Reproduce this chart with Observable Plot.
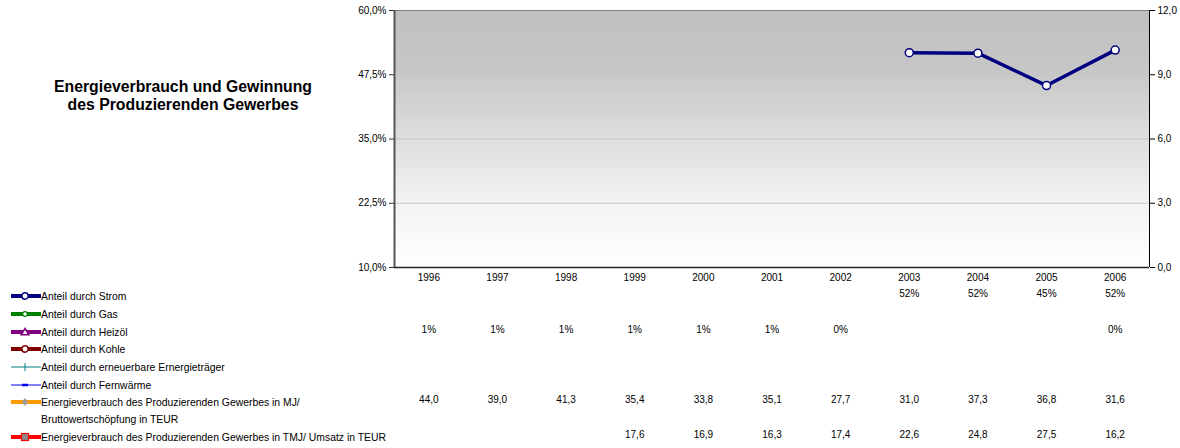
<!DOCTYPE html>
<html><head><meta charset="utf-8">
<script src="https://cdn.jsdelivr.net/npm/d3@7"></script>
<script src="https://cdn.jsdelivr.net/npm/@observablehq/plot@0.6"></script>
<style>html,body{margin:0;padding:0;background:#fff} svg{display:block}</style>
</head><body><div id="chart"></div>
<script>
// ---------- data ----------
const years = [1996, 1997, 1998, 1999, 2000, 2001, 2002, 2003, 2004, 2005, 2006];
const seriesNames = [
  "Anteil durch Strom",
  "Anteil durch Gas",
  "Anteil durch Heizöl",
  "Anteil durch Kohle",
  "Anteil durch erneuerbare Ernergieträger",
  "Anteil durch Fernwärme",
  "Energieverbrauch des Produzierenden Gewerbes in MJ/ Bruttowertschöpfung in TEUR",
  "Energieverbrauch des Produzierenden Gewerbes in TMJ/ Umsatz in TEUR"
];
const strom      = [null, null, null, null, null, null, null, 51.8, 51.7, 45.4, 52.3];
const gas        = [null, null, null, null, null, null, null, null, null, null, null];
const heizoel    = [1, 1, 1, 1, 1, 1, 0, null, null, null, 0];
const kohle      = [null, null, null, null, null, null, null, null, null, null, null];
const erneuerbar = [null, null, null, null, null, null, null, null, null, null, null];
const fernwaerme = [null, null, null, null, null, null, null, null, null, null, null];
const mjBws      = [44.0, 39.0, 41.3, 35.4, 33.8, 35.1, 27.7, 31.0, 37.3, 36.8, 31.6];
const tmjUmsatz  = [null, null, null, 17.6, 16.9, 16.3, 17.4, 22.6, 24.8, 27.5, 16.2];
const leftTicks  = [10, 22.5, 35, 47.5, 60];
const rightTicks = [0, 3, 6, 9, 12];
const titleLines = ["Energieverbrauch und Gewinnung", "des Produzierenden Gewerbes"];

// ---------- setup ----------
const W = 1180, H = 448;
const mL = 394, mR = 31, mT = 10, mB = 181;
const frameBottom = H - mB;
const yDom = [10, 60];
const rMax = rightTicks[rightTicks.length - 1];
const toLeft = v => yDom[0] + v / rMax * (yDom[1] - yDom[0]);
const comma = (v, d) => v.toFixed(d).replace(".", ",");

const series = [
  {name: seriesNames[0], values: strom,      axis: "left",  color: "#000080", width: 3.5, marker: "circle", fmt: v => Math.round(v) + "%"},
  {name: seriesNames[1], values: gas,        axis: "left",  color: "#008000", width: 3.5, marker: "circle-s", fmt: v => Math.round(v) + "%"},
  {name: seriesNames[2], values: heizoel,    axis: "left",  color: "#800080", width: 3.5, marker: "triangle", fmt: v => Math.round(v) + "%"},
  {name: seriesNames[3], values: kohle,      axis: "left",  color: "#800000", width: 3.5, marker: "circle", fmt: v => Math.round(v) + "%"},
  {name: seriesNames[4], values: erneuerbar, axis: "left",  color: "#008080", width: 1,   marker: "plus", fmt: v => Math.round(v) + "%"},
  {name: seriesNames[5], values: fernwaerme, axis: "left",  color: "#0000ff", width: 1,   marker: "dash", fmt: v => Math.round(v) + "%"},
  {name: seriesNames[6], values: mjBws,      axis: "right", color: "#ff9900", width: 3.5, marker: "diamond", fmt: v => comma(v, 1)},
  {name: seriesNames[7], values: tmjUmsatz,  axis: "right", color: "#ff0000", width: 3.5, marker: "square", fmt: v => comma(v, 1)}
];
const rowY = [296, 314, 332, 349, 367, 385, 402, 437];

const lineMarks = [];
const tableMarks = [];
series.forEach((s, i) => {
  const rows = years.map((year, j) => {
    const v = s.values[j];
    return {year, value: v, y: v == null ? NaN : (s.axis === "left" ? v : toLeft(v))};
  });
  lineMarks.push(Plot.line(rows, {x: "year", y: "y", stroke: s.color, strokeWidth: s.width, clip: true}));
  lineMarks.push(Plot.dot(rows, {x: "year", y: "y", r: 4, fill: "#fff", stroke: s.color, strokeWidth: 1.5, clip: true}));
  const labelled = rows.filter(d => d.value != null);
  tableMarks.push(Plot.text(labelled, {
    x: "year", text: d => s.fmt(d.value), frameAnchor: "bottom", dy: rowY[i] - frameBottom,
    fill: "#000", fontSize: 10
  }));
});

const chart = Plot.plot({
  width: W, height: H,
  marginLeft: mL, marginRight: mR, marginTop: mT, marginBottom: mB,
  x: {type: "linear", domain: [1995.5, 2006.5]},
  y: {domain: yDom},
  style: {fontFamily: "'Liberation Sans', Arial, sans-serif", fontSize: "10px", color: "#000", background: "#fff", overflow: "visible"},
  marks: [
    Plot.frame({fill: "url(#bgGrad)", stroke: null}),
    Plot.ruleY([22.5, 35, 47.5], {stroke: "#c6c6c6", strokeWidth: 1}),
    Plot.ruleY([yDom[1]], {stroke: "#808080", strokeWidth: 1}),
    Plot.axisY({ticks: leftTicks, tickFormat: d => comma(d, 1) + "%", tickSize: 5, tickPadding: 3, label: null, stroke: "#333"}),
    Plot.axisY({anchor: "right", ticks: leftTicks, tickFormat: d => comma((d - yDom[0]) / (yDom[1] - yDom[0]) * rMax, 1), tickSize: 5, tickPadding: 3, label: null}),
    Plot.axisX({ticks: years, tickFormat: d => String(d), tickSize: 0, tickPadding: 6, label: null}),
    Plot.ruleX([1995.5], {stroke: "#555", strokeWidth: 2}),
    Plot.ruleX([2006.5], {stroke: "#000", strokeWidth: 1}),
    Plot.ruleY([yDom[0]], {stroke: "#222", strokeWidth: 1.5}),
    ...lineMarks,
    ...tableMarks
  ]
});

// gradient background definition
const svg = d3.select(chart);
const defs = svg.insert("defs", ":first-child");
const grad = defs.append("linearGradient").attr("id", "bgGrad").attr("x1", 0).attr("y1", 0).attr("x2", 0).attr("y2", 1);
[[0, "#c0c0c0"], [0.22, "#c6c6c6"], [0.5, "#dedede"], [0.75, "#f3f3f3"], [1, "#ffffff"]]
  .forEach(([o, c]) => grad.append("stop").attr("offset", o).attr("stop-color", c));

// title
const tg = svg.append("g").attr("font-weight", "bold").attr("font-size", 15.8).attr("text-anchor", "middle").attr("fill", "#000");
titleLines.forEach((t, i) => tg.append("text").attr("x", 183).attr("y", 86 + i * 18).attr("dy", "0.35em").text(t));

// legend
const lg = svg.append("g").attr("font-size", 10.4).attr("fill", "#000").attr("text-anchor", "start");
series.forEach((s, i) => {
  const y = rowY[i];
  const g = lg.append("g").attr("transform", `translate(0,${y})`);
  g.append("line").attr("x1", 11).attr("x2", 41).attr("y1", 0).attr("y2", 0)
    .attr("stroke", s.color).attr("stroke-width", s.width > 2 ? 4 : 1);
  const cx = 25;
  if (s.marker === "circle") g.append("circle").attr("cx", cx).attr("cy", 0).attr("r", 3.2).attr("fill", "#fff").attr("stroke", s.color).attr("stroke-width", 1.5);
  if (s.marker === "circle-s") g.append("circle").attr("cx", cx).attr("cy", 0).attr("r", 2.3).attr("fill", "#fff").attr("stroke", s.color).attr("stroke-width", 1.2);
  if (s.marker === "triangle") g.append("path").attr("d", `M${cx},-3.5L${cx + 3.8},2.8L${cx - 3.8},2.8Z`).attr("fill", "#fff").attr("stroke", s.color).attr("stroke-width", 1.5);
  if (s.marker === "plus") g.append("line").attr("x1", cx).attr("x2", cx).attr("y1", -4).attr("y2", 4).attr("stroke", s.color).attr("stroke-width", 1);
  if (s.marker === "dash") g.append("line").attr("x1", cx - 3).attr("x2", cx + 3).attr("y1", 0).attr("y2", 0).attr("stroke", s.color).attr("stroke-width", 2.5);
  if (s.marker === "diamond") g.append("path").attr("d", `M${cx},-3.5L${cx + 3},0L${cx},3.5L${cx - 3},0Z`).attr("fill", "#9a9a9a").attr("stroke", "#b0a080").attr("stroke-width", 0.8);
  if (s.marker === "square") g.append("rect").attr("x", cx - 3.5).attr("y", -3.5).attr("width", 7).attr("height", 7).attr("fill", "#8a8a8a").attr("stroke", s.color).attr("stroke-width", 1.2);
  const parts = s.name === seriesNames[6]
    ? ["Energieverbrauch des Produzierenden Gewerbes in MJ/", "Bruttowertschöpfung in TEUR"]
    : [s.name];
  parts.forEach((p, k) => g.append("text").attr("x", 41).attr("y", k * 17).attr("dy", "0.35em").text(p));
});

document.getElementById("chart").appendChild(chart);
</script>
</body></html>
